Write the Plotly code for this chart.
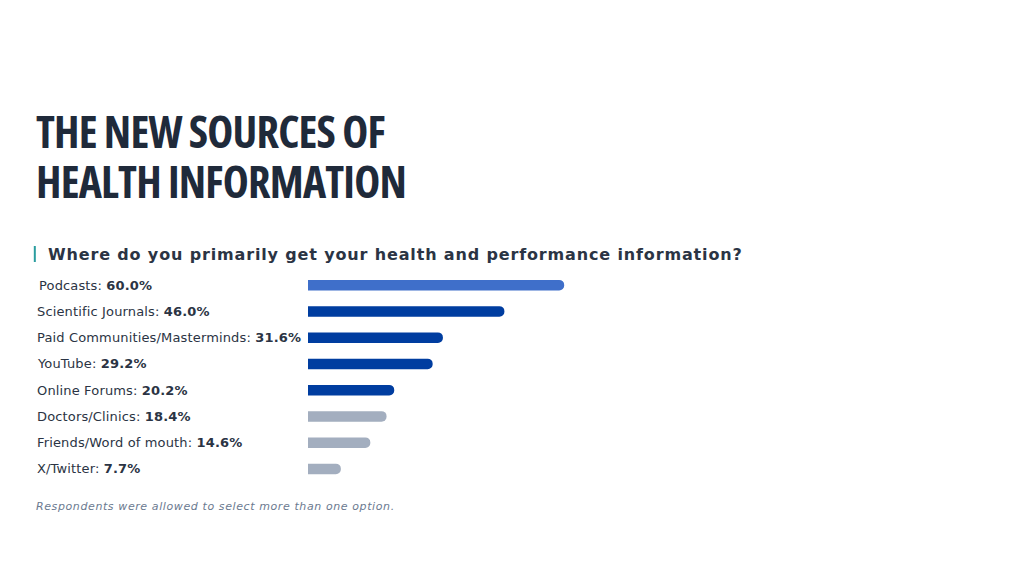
import plotly.graph_objects as go

categories = ["Podcasts", "Scientific Journals", "Paid Communities/Masterminds", "YouTube",
              "Online Forums", "Doctors/Clinics", "Friends/Word of mouth", "X/Twitter"]
values = [60.0, 46.0, 31.6, 29.2, 20.2, 18.4, 14.6, 7.7]
colors = ["#3F6FCA", "#003DA0", "#003DA0", "#003DA0", "#003DA0", "#A3AEBF", "#A3AEBF", "#A3AEBF"]

title_lines = ["THE NEW SOURCES OF", "HEALTH INFORMATION"]
subtitle = "Where do you primarily get your health and performance information?"
footnote = "Respondents were allowed to select more than one option."

W, H = 1024, 576
L, R = 308, 1024 - 308 - 426.7
T, B = 272, 576 - 482.1
pw, ph = W - L - R, H - T - B

def px(x):
    return (x - L) / pw

def py(y):
    return (H - B - y) / ph

LABEL_FONT = "DejaVu Sans, sans-serif"
TITLE_FONT = "Open Sans, sans-serif"

fig = go.Figure(go.Bar(
    x=values, y=categories, orientation="h",
    marker=dict(color=colors, line=dict(width=0)),
    width=0.4, hoverinfo="skip",
))

ann = []
for i, (c, v) in enumerate(zip(categories, values)):
    ann.append(dict(x=px(37 if i == 0 else 35), xref="paper", y=c, yref="y", xanchor="left", yanchor="middle",
                    text=f'<span style="letter-spacing:0.15px">{c}: <b>{v:.1f}%</b></span>', showarrow=False,
                    font=dict(family=LABEL_FONT, size=13, color="#2B3444")))

for line, yc in zip(title_lines, [131, 181]):
    ann.append(dict(x=px(34), xref="paper", y=py(yc), yref="paper", xanchor="left", yanchor="middle",
                    text=f'<span style="font-stretch:condensed;letter-spacing:-0.8px"><b>{line}</b></span>',
                    showarrow=False,
                    font=dict(family=TITLE_FONT, size=44, color="#1F2A3A")))
ann.append(dict(x=px(46), xref="paper", y=py(254), yref="paper", xanchor="left", yanchor="middle",
                text=f'<span style="letter-spacing:0.85px"><b>{subtitle}</b></span>', showarrow=False,
                font=dict(family=LABEL_FONT, size=16, color="#2B3444")))
ann.append(dict(x=px(34), xref="paper", y=py(507), yref="paper", xanchor="left", yanchor="middle",
                text=f'<span style="letter-spacing:0.6px"><i>{footnote}</i></span>', showarrow=False,
                font=dict(family=LABEL_FONT, size=11, color="#6B7A90")))

shapes = [dict(type="line", xref="paper", yref="paper", x0=px(35), x1=px(35), y0=py(246), y1=py(262),
               line=dict(color="#2A9D9F", width=2))]

fig.update_layout(
    width=W, height=H,
    margin=dict(l=L, r=R, t=T, b=B),
    paper_bgcolor="white", plot_bgcolor="white",
    barcornerradius=5,
    showlegend=False,
    xaxis=dict(range=[0, 100], visible=False, fixedrange=True),
    yaxis=dict(autorange="reversed", visible=False, fixedrange=True),
    annotations=ann, shapes=shapes,
)

fig.write_html("out.html")
